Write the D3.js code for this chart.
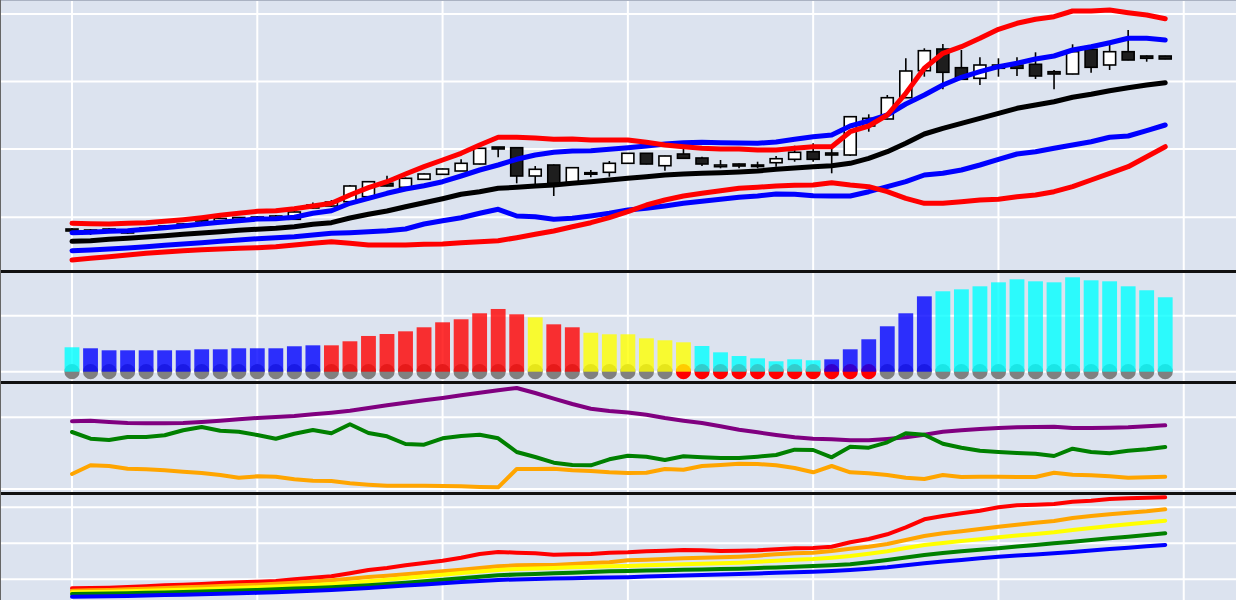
<!DOCTYPE html>
<html>
<head>
<meta charset="utf-8">
<script src="https://cdn.jsdelivr.net/npm/d3@7"></script>
<style>
  html, body { margin: 0; padding: 0; background: #dce3ef; overflow: hidden; }
  svg { display: block; }
</style>
</head>
<body>
<div id="chart"></div>
<script>
// ---- data (60 sessions, index 0..59) ----
// candles + bands, panel 1 (price units)
const candleOpen = [42,39,40,40,41,43,45,52,50,51.5,54,52.5,51.7,63,65,69.3,74.3,87.7,83.7,91.7,96.7,100,107,124,123.3,95,106,88.7,97,98.7,107.7,117.7,105.3,117,113,104.3,107,105,108.3,111.7,119.3,118,116,145,152,173.3,200.3,222,203.3,192.7,202.7,206,206.7,199.3,197,221.7,206,219.3,215,215]
const candleHigh = [43,42,43,41,44,46,48,53,53.5,54,55,56,60,68.5,71,86,90,95.3,93.5,97.5,102.5,111.7,123,124,123.5,105,106.5,103.5,101,110,118,118,115.3,122.7,114.3,111,107.5,109.3,115,125.3,127.7,124.3,155,156.7,176,212.7,222.7,227,221,213.7,212.7,213.7,218.7,201,226.7,223.3,226,241,215.5,215.2]
const candleLow = [39,36,38,37,40,42,44,49,49,50.5,51,52,51,62,64,69,74,84.5,83,91.5,96.5,100,106.5,113.7,87.7,87,75,88.5,93.7,94.3,107.5,106.7,100.3,112.5,105,102.7,102.7,102.7,104.3,109.3,109.3,97.7,115,139.3,151.5,173,194.3,181.7,191.5,186,194.3,195,192,181.7,196.7,198.3,201,210.7,209.3,211.8]
const candleClose = [40,41,42,38,43,45,47,50,52.5,53.5,52,55,59,66,69,85,89.3,85,92.7,97,102,107.7,122.7,122,95,101.7,87.7,103.3,98.3,107.7,117.7,107,115,112.7,107,106,105,106,112.3,118.7,111.7,116,154.3,152.7,173.3,200,220.3,198.7,191.7,206,206,202.7,195,197,219.3,203.7,219.3,211,212.7,212]

const bandUpperOuter = [47.7,47.3,47,47.7,48.3,49.7,51.3,53.3,55.7,57.7,59.7,60.3,62.3,65,67.7,76,83.3,89.3,97,104.3,111,117.7,126,133.7,133.7,133,131.7,132,131,131,131,128.7,126,124.3,122.7,122,122,121,121,122.7,124.3,124.3,139.3,145,156,177.7,202.7,217.7,224.3,232.7,241.7,247.7,251.7,254.3,260,260,261,258.3,256,252.3]
const bandUpperInner = [38.3,38.7,39.7,40.3,41.7,43.3,45,47,48.7,50.3,52,52.3,53.7,57.7,60.3,67.7,72.7,77.7,82,85.3,89.3,95,101,106,111.7,116,118.7,120,120.3,121.7,123.3,125,127,128.3,128.7,128.3,128,127.7,129,131.7,134.3,136,145,150,156,167,176,186,193.7,199.3,204.3,207.7,212,215,221,224.3,228.3,232.7,232.7,231]
const bandMid = [29.7,30.3,31.7,32.7,34,35.3,36.7,38,39.3,40.7,41.7,42.7,44.3,46.7,48.3,53,56.7,60,64.3,68.3,72.3,76.7,79.3,82.7,83.7,85,86,87.7,89.3,91,92.7,94.3,96,97,97.7,98.3,99,100,101.7,103,104.3,105.3,107.7,112.7,119.3,127.7,137,142.7,147.7,152.7,157.7,162.7,166,169.3,173.7,176.7,180.3,183.3,186,188.3]
const bandLowerInner = [20.3,21,22,23,24.3,25.7,27,28.3,29.7,31,32.3,33.3,34.3,36,37.7,38.3,39.3,40.3,42,47,50.3,53.3,57.7,61.7,55,54.3,51.7,52.7,55,57.7,61,62.7,65,67.7,69.7,71.7,73.7,75,77,76.7,75.3,75,75,79.3,84.3,89.3,96,97.7,101,106,111.7,117,119.3,122.7,126,129.3,133.7,135,140.3,146]
const bandLowerOuter = [11,12.7,14.3,16,17.7,19,20.3,21.3,22,22.7,23.3,24.3,26,27.7,29.3,27.7,26,26,26,26.7,27,28.3,29.3,30.3,33.3,36.7,40,44.3,48.3,53.3,59.3,66,71,75,77.7,80.3,82.7,83.7,85,85.7,86,88.3,86,84.3,79.3,72.7,67.7,67.7,69.3,71,71.7,74.3,76,79.3,84.3,91,97.7,104.3,114.3,124.3]

// panel 2: momentum histogram + squeeze dots
const momentum = [4.36,4.18,3.82,3.82,3.82,3.82,3.82,4.0,4.0,4.18,4.18,4.18,4.54,4.71,4.71,5.43,6.38,6.73,7.21,7.93,8.82,9.36,10.43,11.2,10.25,9.71,8.46,7.93,6.96,6.68,6.68,5.96,5.61,5.25,4.59,3.46,2.80,2.39,1.86,2.21,2.04,2.21,4.0,5.79,8.11,10.43,13.46,14.36,14.71,15.25,15.96,16.5,16.14,15.96,16.86,16.32,16.14,15.25,14.54,13.29]
const momentumColor = ['cyan',
  'blue','blue','blue','blue','blue','blue','blue','blue','blue','blue','blue','blue','blue',
  'red','red','red','red','red','red','red','red','red','red','red',
  'yellow','red','red',
  'yellow','yellow','yellow','yellow','yellow','yellow',
  'cyan','cyan','cyan','cyan','cyan','cyan','cyan',
  'blue','blue','blue','blue','blue','blue',
  'cyan','cyan','cyan','cyan','cyan','cyan','cyan','cyan','cyan','cyan','cyan','cyan','cyan']
const squeezeOn = [0,0,0,0,0,0,0,0,0,0,0,0,0,0,0,0,0,0,0,0,0,0,0,0,0,0,0,0,0,0,0,0,0,1,1,1,1,1,1,1,1,1,1,1,0,0,0,0,0,0,0,0,0,0,0,0,0,0,0,0]

// panel 3: three oscillator lines
const oscPurple = [67.7,68.3,67,66,65.7,65.7,66,67,68.3,69.7,71,72,73,74.7,76.3,78.3,81,83.7,86.3,88.7,91,93.7,96.3,98.7,101,96,90.3,85,80.3,78,76.5,74.3,71,68.3,66,62.7,59.3,56.7,54,51.7,50.3,49.7,48.7,48.7,50,51.7,54.3,57.3,58.7,60,61,61.7,62,62.3,61,61,61.3,61.7,62.7,63.7]
const oscGreen = [57,50.3,49,52,52,53.7,58.7,62,58.3,57.3,54,50.3,55.3,59,55.7,64.7,56,52.7,45,44.3,50.7,53,54.3,50.7,37,32,26.3,24,23.7,29.7,33.3,32.3,29,32.7,31.7,31,31,32.3,34,39.3,39,31.7,42.3,41.3,46.7,55.7,54.3,45.3,41.3,38.3,37,36,35.3,33,40.3,37,35.7,38.3,39.7,42]
const oscOrange = [15,23.7,23,20.3,19.7,18.7,17.3,16,14,11.3,12.7,12.3,9.7,8.3,8,5.7,4.3,3.3,3.3,3.3,3,2.7,2,1.7,20,20,20.3,18.7,18,16.7,16,16.3,20,19.3,23,24,25.3,25,23.7,21,16.7,23,16.7,15.7,14,11.3,10,14,12,12.3,12.3,12,12,16.3,14.3,13.7,12.7,11.3,11.7,12.3]

// panel 4: moving-average ribbon
const maRed = [11.7,12,12.3,13,13.7,14.7,15.3,16,17,17.7,18.3,19,20.7,22.3,23.7,26.7,30,32,34.7,37,39.3,42.3,46,48,47.3,46.7,45.3,45.7,46,47.3,47.7,48.7,49.3,50,49.7,49,49.3,49.7,50.7,51.7,52,53.3,57.7,61,65.7,72.7,80.7,84,86.7,89.3,92.7,94.7,95.3,96,98.3,99.3,101,101.7,102.3,102.7]
const maOrange = [9.3,9.7,10,10.7,11.3,12,12.7,13.3,14,14.7,15.3,16.3,17.3,18.5,19.7,21.3,23,24.3,25.7,27.3,28.7,30.3,32,33.7,34.7,35,35,36,37,37.7,39.7,40.3,41,41.7,42.3,42.7,43.3,44.3,45.7,46.7,47.3,49,51.3,53.3,56,60,64,66.7,68.7,71,73.3,75.3,77.3,79,82,84,85.7,87.3,88.7,90.7]
const maYellow = [7.7,8,8.3,8.7,9.2,9.7,10.2,10.8,11.4,12,12.7,13.4,14.2,15,16,17.2,18.7,20.3,22,23.7,25.3,27,28.5,30,31,31.5,32,32.7,33.3,33.7,34,34.7,35.3,35.8,36.3,36.8,37.3,38.2,39.2,40.2,41,42.3,44,46.2,48.7,52,55,57,59,60.8,62.7,64.5,66,67.7,70,72,74,75.8,77.5,79.3]
const maGreen = [6,6.2,6.5,6.8,7.2,7.6,8,8.5,9,9.5,10,10.7,11.4,12.1,12.8,13.7,14.8,16,17.3,18.7,20.2,21.7,23.2,24.7,25.5,26,26.7,27.3,28,28.7,29,29.4,29.8,30.2,30.6,31,31.3,32,32.6,33.3,34,34.8,35.7,37.7,40,42.5,45,47,48.7,50.2,51.7,53.4,55,56.7,58.3,60,61.7,63.3,65,66.7]
const maBlue = [3.3,3.5,3.8,4.1,4.5,4.9,5.3,5.7,6.2,6.7,7.2,7.8,8.4,9.2,10,11,12.1,13.2,14.4,15.6,16.8,18,19,20,20.6,21,21.4,21.8,22.2,22.5,22.8,23.4,23.9,24.5,25,25.5,26,26.6,27.2,27.8,28.3,29.1,30,31.3,32.7,34.7,36.7,38.4,40,41.7,43.3,44.4,45.6,46.7,48.1,49.6,51,52.3,53.7,55]

// grid ticks
const xTicks = [0, 10, 20, 30, 40, 50, 60]
const p1Ticks = [53.7, 122, 189.5, 257]
const p2Ticks = [0, 10]
const p3Ticks = [0, 71.7]
const p4Ticks = [20.7, 56.7, 92.7]

// ---- layout ----
const W = 1236, H = 600
const BG = '#dce3ef'
const colorMap = { cyan: '#00ffff', blue: '#0000ff', red: '#ff0000', yellow: '#ffff00' }

const idx = d3.range(candleOpen.length)

const x = d3.scaleLinear().domain([-3.886, 62.82]).range([0, W])
const step = x(1) - x(0)

const panels = [
  { top: 0, bottom: 271, y: d3.scaleLinear().domain([0, 271]).range([271, 0]), ticks: p1Ticks },
  { top: 271, bottom: 382, y: d3.scaleLinear().domain([0, 10]).range([371.7, 315.7]), ticks: p2Ticks },
  { top: 382, bottom: 493, y: d3.scaleLinear().domain([0, 71.7]).range([489, 417.3]), ticks: p3Ticks },
  { top: 493, bottom: 600, y: d3.scaleLinear().domain([0, 107]).range([600, 493]), ticks: p4Ticks }
]

const svg = d3.select('#chart').append('svg')
  .attr('width', W).attr('height', H)

svg.append('rect').attr('width', W).attr('height', H).attr('fill', BG)

const defs = svg.append('defs')

panels.forEach((p, k) => {
  defs.append('clipPath').attr('id', 'clip' + k)
    .append('rect').attr('x', 0).attr('y', p.top).attr('width', W).attr('height', p.bottom - p.top)

  p.g = svg.append('g').attr('clip-path', `url(#clip${k})`)

  // white grid
  p.g.append('g').selectAll('line').data(xTicks).join('line')
    .attr('x1', d => x(d)).attr('x2', d => x(d))
    .attr('y1', p.top).attr('y2', p.bottom)
    .attr('stroke', '#fff').attr('stroke-width', 2)
  p.g.append('g').selectAll('line').data(p.ticks).join('line')
    .attr('x1', 0).attr('x2', W)
    .attr('y1', d => p.y(d)).attr('y2', d => p.y(d))
    .attr('stroke', '#fff').attr('stroke-width', 2)
})

function drawLine(p, values, color, width) {
  const line = d3.line().x((d, i) => x(i)).y(d => p.y(d))
  p.g.append('path').datum(values)
    .attr('d', line)
    .attr('fill', 'none')
    .attr('stroke', color)
    .attr('stroke-width', width)
    .attr('stroke-linecap', 'round')
    .attr('stroke-linejoin', 'round')
}

// ---- panel 1: candlesticks + bands ----
const p1 = panels[0]
const boxW = 12
const candles = p1.g.append('g').selectAll('g').data(idx).join('g')
candles.append('line')
  .attr('x1', i => x(i)).attr('x2', i => x(i))
  .attr('y1', i => p1.y(candleHigh[i])).attr('y2', i => p1.y(candleLow[i]))
  .attr('stroke', '#000').attr('stroke-width', 1.6)
candles.append('rect')
  .attr('x', i => x(i) - boxW / 2)
  .attr('width', boxW)
  .attr('y', i => p1.y(Math.max(candleOpen[i], candleClose[i])))
  .attr('height', i => Math.max(1.5, Math.abs(p1.y(candleOpen[i]) - p1.y(candleClose[i]))))
  .attr('fill', i => candleClose[i] >= candleOpen[i] ? '#ffffff' : '#1e1e1e')
  .attr('stroke', '#000').attr('stroke-width', 1.6)

drawLine(p1, bandMid, '#000000', 5)
drawLine(p1, bandLowerInner, '#0000ff', 5)
drawLine(p1, bandUpperInner, '#0000ff', 5)
drawLine(p1, bandLowerOuter, '#ff0000', 5)
drawLine(p1, bandUpperOuter, '#ff0000', 5)

// ---- panel 2: squeeze dots + momentum bars ----
const p2 = panels[1]
p2.g.append('g').selectAll('circle').data(idx).join('circle')
  .attr('cx', i => x(i)).attr('cy', p2.y(0))
  .attr('r', 7.6)
  .attr('fill', i => squeezeOn[i] ? '#ff0000' : '#808080')
const barW = step * 0.8
p2.g.append('g').selectAll('rect').data(idx).join('rect')
  .attr('x', i => x(i) - barW / 2)
  .attr('width', barW)
  .attr('y', i => p2.y(momentum[i]))
  .attr('height', i => p2.y(0) - p2.y(momentum[i]))
  .attr('fill', i => colorMap[momentumColor[i]])
  .attr('fill-opacity', 0.8)

// ---- panel 3: oscillators ----
const p3 = panels[2]
drawLine(p3, oscPurple, '#800080', 4)
drawLine(p3, oscGreen, '#008000', 4)
drawLine(p3, oscOrange, '#ffa500', 4)

// ---- panel 4: ribbon ----
const p4 = panels[3]
drawLine(p4, maRed, '#ff0000', 4)
drawLine(p4, maOrange, '#ffa500', 4)
drawLine(p4, maYellow, '#ffff00', 4)
drawLine(p4, maGreen, '#008000', 4)
drawLine(p4, maBlue, '#0000ff', 4)

// panel separators and frame
svg.append('g').selectAll('line').data(panels.slice(1)).join('line')
  .attr('x1', 0).attr('x2', W)
  .attr('y1', d => d.top + 0.5).attr('y2', d => d.top + 0.5)
  .attr('stroke', '#111').attr('stroke-width', 3)
svg.append('line').attr('x1', 0).attr('x2', W).attr('y1', 0.5).attr('y2', 0.5)
  .attr('stroke', '#aab2c2').attr('stroke-width', 1)
svg.append('line').attr('x1', 0.5).attr('x2', 0.5).attr('y1', 0).attr('y2', H)
  .attr('stroke', '#666').attr('stroke-width', 1)
</script>
</body>
</html>
